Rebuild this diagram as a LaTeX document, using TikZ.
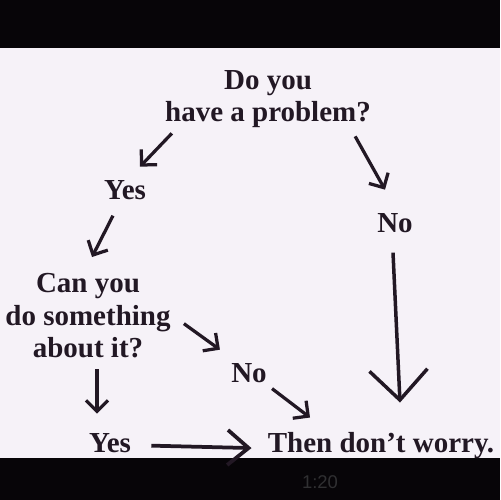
\documentclass[tikz,border=0pt]{standalone}
\usepackage{fontspec}
\setmainfont{Liberation Serif}
\newfontfamily\clockfont{Liberation Sans}
\usepackage{xcolor}
\usetikzlibrary{arrows.meta,positioning,calc}
\definecolor{paper}{RGB}{246,242,248}
\definecolor{ink}{RGB}{34,24,36}
\definecolor{band}{RGB}{7,5,8}
\definecolor{clockgray}{RGB}{48,48,50}

\begin{document}
\begin{tikzpicture}[
    x=0.02cm, y=-0.02cm,
    words/.style={text=ink, font=\fontsize{16.5}{18.5}\selectfont\bfseries, inner sep=0pt, align=center},
    arr/.style={draw=ink, line width=0.065cm, -{Straight Barb[length=0.22cm, width=0.44cm]}},
    midarr/.style={draw=ink, line width=0.075cm, -{Straight Barb[length=0.42cm, width=0.7cm]}},
    bigarr/.style={draw=ink, line width=0.07cm, -{Straight Barb[length=0.6cm, width=1.16cm]}}
]
\useasboundingbox (0,0) rectangle (500,500);
\fill[paper] (0,0) rectangle (500,500);
\fill[band] (0,0) rectangle (500,48);
\fill[band] (0,458) rectangle (500,500);
\node[words, anchor=north] (problem) at (268,70) {Do you\\have a problem?};
\node[words, anchor=base] (yesA) at (125,199) {Yes};
\node[words, anchor=base] (noA) at (395,232) {No};
\node[words, anchor=north] (cando) at (88,273) {Can you\\do something\\about it?};
\node[words, anchor=base] (noB) at (249,382) {No};
\node[words, anchor=base] (yesB) at (110,452) {Yes};
\node[words, anchor=base] (worry) at (381,452) {Then don’t worry.};
\node[text=clockgray, font=\clockfont\fontsize{10.5}{12}\selectfont, inner sep=0pt] (clock) at (320,482) {1:20};
\draw[arr] ($(problem.south west)+(7,5)$) -- ($(yesA.north)+(15,-13)$);
\draw[arr] ($(problem.south east)+(-16,8)$) -- ($(noA.north)+(-10,-23)$);
\draw[arr] ($(yesA.south)+(-12,16)$) -- ($(cando.north)+(4,-16)$);
\draw[bigarr] ($(noA.south)+(-2,20)$) -- ($(worry.north)+(19,-29)$);
\draw[arr] ($(cando.east)+(13,8)$) -- ($(noB.north west)+(-11,-13)$);
\draw[arr] ($(cando.south)+(9,11)$) -- ($(yesB.north)+(-13,-19)$);
\draw[arr] ($(noB.south east)+(5,6)$) -- ($(worry.north)+(-71,-14)$);
\draw[midarr] ($(yesB.east)+(20,3)$) -- ($(worry.west)+(-16,3)$);
\end{tikzpicture}
\end{document}
